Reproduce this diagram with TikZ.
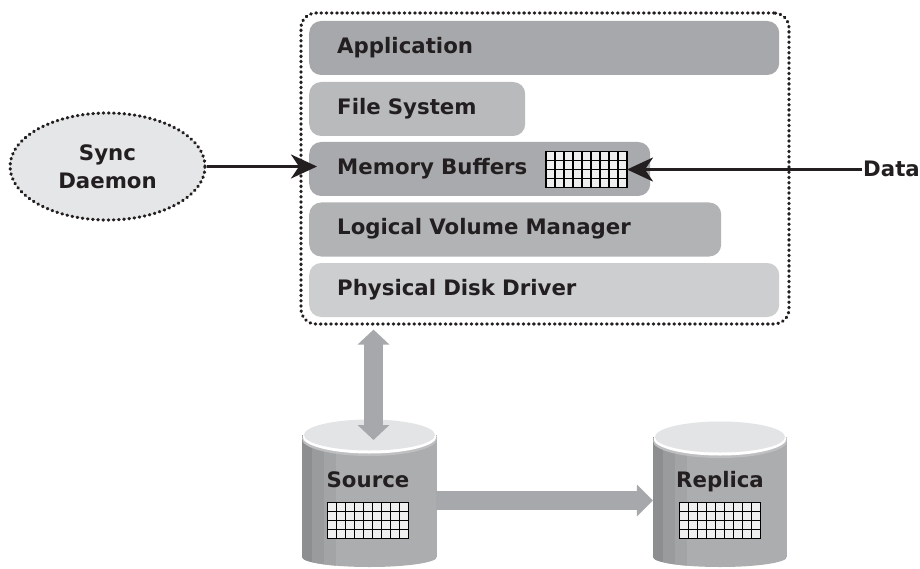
\documentclass[tikz,border=0pt]{standalone}
\usepackage{fontspec}
\setmainfont{DejaVu Sans}
\usetikzlibrary{arrows.meta,shapes.geometric,calc}
\definecolor{appc}{HTML}{A7A8AB}
\definecolor{fsc}{HTML}{B9BABC}
\definecolor{mbc}{HTML}{A9AAAD}
\definecolor{lvmc}{HTML}{B2B3B5}
\definecolor{pddc}{HTML}{CDCED0}
\definecolor{syncc}{HTML}{E5E6E7}
\definecolor{arrowgray}{HTML}{A7A8AB}
\definecolor{gridfill}{HTML}{EFEFEF}
\definecolor{bodyc}{HTML}{ACADAF}
\definecolor{stripea}{HTML}{8D8E90}
\definecolor{stripeb}{HTML}{9A9B9D}
\definecolor{stripec}{HTML}{A3A4A6}
\definecolor{rimc}{HTML}{BEBFC1}
\definecolor{topc}{HTML}{E3E4E5}
\definecolor{txtc}{HTML}{231F20}
\newcommand\lbl{\fontsize{21.3}{28}\selectfont\bfseries}
\newcommand\drawgrid[1]{%
  \foreach \i in {1,...,8} \draw[line width=1.1pt] ($(#1.north west)+(\i*9,0)$) -- ($(#1.south west)+(\i*9,0)$);
  \foreach \j in {1,...,3} \draw[line width=1.1pt] ($(#1.north west)+(0,\j*9)$) -- ($(#1.north east)+(0,\j*9)$);
}
% #1 cx, #2 rx, #3 top centre y, #4 bottom side y
\newcommand\drawcyl[4]{%
  \begin{scope}
    \clip (#1-#2,#3) -- (#1-#2,#4) arc[start angle=180,end angle=0,x radius=#2,y radius=10] -- (#1+#2,#3) -- cycle;
    \fill[bodyc] (#1-#2,#3-20) rectangle (#1+#2,#4+12);
    \fill[stripea] (#1-#2,#3-20) rectangle (#1-#2+10,#4+12);
    \fill[stripeb] (#1-#2+10,#3-20) rectangle (#1-#2+22,#4+12);
    \fill[stripec] (#1-#2+22,#3-20) rectangle (#1-#2+34,#4+12);
  \end{scope}
  \fill[rimc] (#1,#3+4) ellipse[x radius=#2, y radius=17];
  \fill[white] (#1,#3+1.5) ellipse[x radius=#2-0.5, y radius=17];
  \fill[topc] (#1,#3) ellipse[x radius=#2-2, y radius=15.5];
}
\tikzset{
  layer/.style={rounded corners=12pt, anchor=west, minimum height=54pt, inner xsep=28pt, inner ysep=0pt,
    align=left, text height=15pt, text depth=4pt, font=\lbl, text=txtc},
  dotline/.style={line width=3.2pt, dash pattern=on 0.6pt off 4.6pt, line cap=round},
  blackarrow/.style={line width=3pt, draw=txtc, -{Stealth[length=26pt,width=24pt,inset=8pt]}},
  grayarrow/.style={line width=19pt, draw=arrowgray},
  gridbox/.style={draw=black, line width=1.6pt, fill=gridfill, minimum width=81pt, minimum height=36pt, inner sep=0pt, outer sep=0pt},
  lbltext/.style={font=\lbl, text=txtc, inner sep=1pt},
}
\begin{document}
\begin{tikzpicture}[x=1pt,y=-1pt]
\useasboundingbox (0,0) rectangle (920,569);
\fill[white] (0,0) rectangle (920,569);

% layers
\node[layer, fill=appc, text width=414pt] (app) at (309,48) {Application};
\node[layer, fill=fsc, text width=160pt] (fs) at (309,109) {File System};
\node[layer, fill=mbc, text width=285pt] (mb) at (309,169) {Memory Buffers};
\node[layer, fill=lvmc, text width=356pt] (lvm) at (309,229.5) {Logical Volume Manager};
\node[layer, fill=pddc, text width=414pt] (pdd) at (309,290) {Physical Disk Driver};

\node[gridbox] (mbgrid) at (586.5,169.5) {};
\drawgrid{mbgrid}

% host container
\node[draw=txtc, dotline, rounded corners=15pt, minimum width=488pt, minimum height=311pt, inner sep=0pt] (host) at (545,168.5) {};

% sync daemon
\node[ellipse, fill=syncc, draw=txtc, dotline, minimum width=195pt, minimum height=107pt, align=center, font=\lbl, text=txtc] (sync) at (107.5,166.5) {Sync\\Daemon};

% data
\node[lbltext, anchor=west, text height=15pt, text depth=0pt] (data) at (862,169.5) {Data};

\draw[blackarrow] (sync.east) -- ([xshift=8pt]sync.east -| mb.west);
\draw[blackarrow] (data.west) -- (mbgrid.east);

% cylinders
\drawcyl{369.5}{67.5}{435}{557}
\drawcyl{720}{67}{437}{557}
\node[inner sep=0pt, minimum width=135pt, minimum height=127pt] (source) at (369.5,500.5) {};
\node[inner sep=0pt, minimum width=134pt, minimum height=127pt] (replica) at (720,500.5) {};
\coordinate (srctop) at (369.5,440);

\node[lbltext, anchor=base] (srclbl) at (368,487) {Source};
\node[lbltext, anchor=base] (replbl) at (720,487) {Replica};
\node[gridbox] (srcgrid) at (368,520.5) {};
\drawgrid{srcgrid}
\node[gridbox] (repgrid) at (720,520.5) {};
\drawgrid{repgrid}

% gray arrows
\draw[grayarrow, {Triangle[length=15pt,width=31pt]}-{Triangle[length=15pt,width=31pt]}]
  ([xshift=4pt,yshift=-4pt]host.south -| source.north) -- ([xshift=4pt]srctop);
\draw[grayarrow, -{Triangle[length=16pt,width=31pt]}] ([xshift=-1pt]source.east) -- (replica.west);
\end{tikzpicture}
\end{document}
